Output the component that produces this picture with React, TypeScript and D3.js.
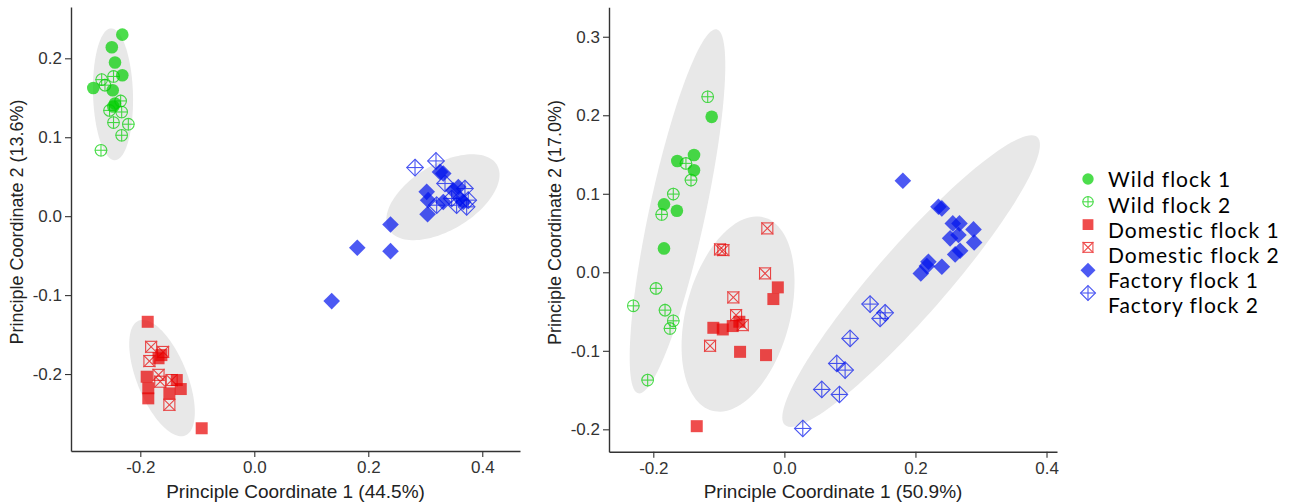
import React, { useEffect, useRef } from "react";
import * as d3 from "d3";

type Pt = [number, number];
type Ell = { c: Pt; a: Pt; b: Pt };

// ---- tick values / labels ----
const xTicks = [-0.2, 0.0, 0.2, 0.4];
const leftYTicks = [-0.2, -0.1, 0.0, 0.1, 0.2];
const rightYTicks = [-0.2, -0.1, 0.0, 0.1, 0.2, 0.3];

const groupLabels = [
  "Wild flock 1",
  "Wild flock 2",
  "Domestic flock 1",
  "Domestic flock 2",
  "Factory flock 1",
  "Factory flock 2",
];

// ---- left panel (PCo1 44.5%, PCo2 13.6%) ----
const leftWild1: Pt[] = [
  [-0.2316, 0.23], [-0.25, 0.214], [-0.2444, 0.1946], [-0.2316, 0.1785],
  [-0.2825, 0.1624], [-0.2484, 0.1595], [-0.2444, 0.1427], [-0.2474, 0.139],
];
const leftWild2: Pt[] = [
  [-0.2678, 0.173], [-0.262, 0.166], [-0.247, 0.177], [-0.2345, 0.146],
  [-0.254, 0.134], [-0.2327, 0.132], [-0.247, 0.1186], [-0.221, 0.1165],
  [-0.2327, 0.1025], [-0.269, 0.0835],
];
const leftDomestic1: Pt[] = [
  [-0.187, -0.1338], [-0.168, -0.18], [-0.163, -0.176], [-0.1888, -0.2034],
  [-0.186, -0.218], [-0.186, -0.2308], [-0.136, -0.2076], [-0.129, -0.219],
  [-0.149, -0.2245], [-0.0923, -0.2687],
];
const leftDomestic2: Pt[] = [
  [-0.181, -0.1655], [-0.16, -0.172], [-0.184, -0.1835], [-0.168, -0.201],
  [-0.165, -0.2097], [-0.145, -0.2076], [-0.149, -0.239],
];
const leftFactory1: Pt[] = [
  [0.1358, -0.1076], [0.1807, -0.04], [0.239, -0.0443], [0.239, -0.0105],
  [0.304, 0.0025], [0.3025, 0.0308], [0.305, 0.0203], [0.3258, 0.0561],
  [0.3316, 0.054], [0.349, 0.0329], [0.361, 0.0224], [0.3667, 0.018],
  [0.3316, 0.018], [0.358, 0.037],
];
const leftFactory2: Pt[] = [
  [0.282, 0.0616], [0.3188, 0.07], [0.3346, 0.0414], [0.32, 0.0139],
  [0.3463, 0.0224], [0.3696, 0.035], [0.3754, 0.0203], [0.355, 0.0139],
  [0.3726, 0.0118],
];
// ellipse: centre, major and minor semi-axis vectors (data units)
const leftEllipses: Ell[] = [
  { c: [-0.2479, 0.1544], a: [-0.0035, 0.0835], b: [0.035, 0.001] },
  { c: [-0.1619, -0.2051], a: [-0.0407, 0.0728], b: [0.0407, 0.0118] },
  { c: [0.331, 0.024], a: [0.0947, 0.041], b: [0.0298, -0.0358] },
];

// ---- right panel (PCo1 50.9%, PCo2 17.0%) ----
const rightWild1: Pt[] = [
  [-0.1109, 0.198], [-0.1634, 0.1417], [-0.1379, 0.1493], [-0.1379, 0.13],
  [-0.1837, 0.0865], [-0.164, 0.0783], [-0.1837, 0.0304],
];
const rightWild2: Pt[] = [
  [-0.117, 0.2236], [-0.1502, 0.1387], [-0.1425, 0.1174], [-0.1695, 0.0996],
  [-0.1872, 0.0737], [-0.1959, -0.0205], [-0.2305, -0.0427], [-0.1821, -0.0482],
  [-0.1695, -0.0618], [-0.1745, -0.0715], [-0.2086, -0.1373],
];
const rightDomestic1: Pt[] = [
  [-0.01, -0.0192], [-0.0168, -0.0341], [-0.1084, -0.0707], [-0.094, -0.0728],
  [-0.0788, -0.0685], [-0.0687, -0.063], [-0.0676, -0.1013], [-0.028, -0.1055],
  [-0.1337, -0.196],
];
const rightDomestic2: Pt[] = [
  [-0.026, 0.0559], [-0.0982, 0.0292], [-0.0931, 0.0283], [-0.0295, -0.0014],
  [-0.0779, -0.032], [-0.0737, -0.0545], [-0.0635, -0.0673], [-0.1134, -0.0936],
];
const rightFactory1: Pt[] = [
  [0.1808, 0.1166], [0.2351, 0.0834], [0.2403, 0.0814], [0.257, 0.0623],
  [0.2672, 0.0623], [0.2886, 0.0546], [0.2529, 0.0432], [0.2656, 0.0474],
  [0.2896, 0.038], [0.2606, 0.0228], [0.2682, 0.0274], [0.2198, 0.0134],
  [0.2403, 0.007], [0.2082, -0.0014], [0.2174, 0.0079],
];
const rightFactory2: Pt[] = [
  [0.1308, -0.0405], [0.1537, -0.0516], [0.1461, -0.0587], [0.1003, -0.0842],
  [0.08, -0.1161], [0.0927, -0.1246], [0.0571, -0.1492], [0.084, -0.1556],
  [0.0281, -0.1989],
];
const rightEllipses: Ell[] = [
  { c: [-0.1631, 0.0776], a: [0.0598, 0.2318], b: [0.0418, -0.0075] },
  { c: [-0.0707, -0.0532], a: [0.0395, 0.1231], b: [0.0766, -0.0172] },
  { c: [0.1934, -0.0112], a: [0.1924, 0.1834], b: [0.0402, -0.0294] },
];

const groupColors = ["#00cf00", "#e80000", "#0012ee"];
const AXIS_FONT = "'Liberation Sans', Arial, sans-serif";

function Marker({ kind, cx, cy, k = 1 }: { kind: number; cx: number; cy: number; k?: number }) {
  const color = groupColors[Math.floor(kind / 2)];
  const open = kind % 2 === 1;
  const shape = Math.floor(kind / 2);
  const sw = 1.1;
  if (shape === 0) {
    const r = 6.3 * k;
    return open ? (
      <g opacity={0.7} stroke={color} strokeWidth={sw} fill="none">
        <circle cx={cx} cy={cy} r={r - 0.5} />
        <line x1={cx - r} x2={cx + r} y1={cy} y2={cy} />
        <line x1={cx} x2={cx} y1={cy - r} y2={cy + r} />
      </g>
    ) : (
      <circle cx={cx} cy={cy} r={r} fill={color} opacity={0.7} />
    );
  }
  if (shape === 1) {
    const h = 6 * k;
    return open ? (
      <g opacity={0.7} stroke={color} strokeWidth={sw} fill="none">
        <rect x={cx - h + 0.5} y={cy - h + 0.5} width={2 * h - 1} height={2 * h - 1} />
        <line x1={cx - h} x2={cx + h} y1={cy - h} y2={cy + h} />
        <line x1={cx - h} x2={cx + h} y1={cy + h} y2={cy - h} />
      </g>
    ) : (
      <rect x={cx - h} y={cy - h} width={2 * h} height={2 * h} fill={color} opacity={0.7} />
    );
  }
  const d = 8.3 * k;
  const pts = `${cx},${cy - d} ${cx + d},${cy} ${cx},${cy + d} ${cx - d},${cy}`;
  return open ? (
    <g opacity={0.7} stroke={color} strokeWidth={sw} fill="none">
      <polygon points={pts} />
      <line x1={cx - d} x2={cx + d} y1={cy} y2={cy} />
      <line x1={cx} x2={cx} y1={cy - d} y2={cy + d} />
    </g>
  ) : (
    <polygon points={pts} fill={color} opacity={0.7} />
  );
}

type PanelProps = {
  left: number; right: number; top: number; bottom: number;
  xDomain: Pt; yDomain: Pt; yTicks: number[];
  xTitle: string; yTitle: string;
  series: Pt[][]; ellipses: Ell[];
};

function Panel(p: PanelProps) {
  const xRef = useRef<SVGGElement>(null);
  const yRef = useRef<SVGGElement>(null);
  const x = d3.scaleLinear().domain(p.xDomain).range([p.left, p.right]);
  const y = d3.scaleLinear().domain(p.yDomain).range([p.bottom, p.top]);

  useEffect(() => {
    const fmt = (v: any) => (+v).toFixed(1);
    const style = (g: any) => {
      g.select(".domain").attr("stroke", "#333").attr("stroke-width", 1.4);
      g.selectAll(".tick line").attr("stroke", "#333").attr("stroke-width", 1.1);
      g.selectAll(".tick text")
        .attr("fill", "#333")
        .style("font-family", AXIS_FONT)
        .style("font-size", "17px");
    };
    d3.select(xRef.current!)
      .attr("transform", `translate(0,${p.bottom})`)
      .call(d3.axisBottom(x).tickValues(xTicks).tickFormat(fmt).tickSize(6).tickSizeOuter(0).tickPadding(4) as any)
      .call(style);
    d3.select(yRef.current!)
      .attr("transform", `translate(${p.left},0)`)
      .call(d3.axisLeft(y).tickValues(p.yTicks).tickFormat(fmt).tickSize(6).tickSizeOuter(0).tickPadding(3) as any)
      .call(style);
  });

  const line = d3.line();
  const ellPath = (e: Ell) => {
    const pts = d3.range(0, 121).map((i) => {
      const t = (i / 120) * Math.PI * 2;
      const c = Math.cos(t), s = Math.sin(t);
      return [x(e.c[0] + e.a[0] * c + e.b[0] * s), y(e.c[1] + e.a[1] * c + e.b[1] * s)] as [number, number];
    });
    return line(pts) + "Z";
  };

  return (
    <g>
      {p.ellipses.map((e, i) => (
        <path key={i} d={ellPath(e)} fill="#e8e8e8" />
      ))}
      {p.series.map((s, kind) =>
        s.map((d, i) => <Marker key={`${kind}-${i}`} kind={kind} cx={x(d[0])} cy={y(d[1])} />)
      )}
      <g ref={xRef} />
      <g ref={yRef} />
      <text
        x={(p.left + p.right) / 2}
        y={498}
        textAnchor="middle"
        fontFamily={AXIS_FONT}
        fontSize={19}
        fill="#222"
      >
        {p.xTitle}
      </text>
      <text
        transform={`translate(${p.left - 48},${(p.top + p.bottom) / 2 - 7}) rotate(-90)`}
        textAnchor="middle"
        fontFamily={AXIS_FONT}
        fontSize={18}
        fill="#222"
      >
        {p.yTitle}
      </text>
    </g>
  );
}

export default function App() {
  return (
    <svg
      width={1292}
      height={503}
      style={{ position: "absolute", left: 0, top: 0, background: "#fff" }}
    >
      <Panel
        left={71} right={520} top={7} bottom={451}
        xDomain={[-0.3216, 0.4662]} yDomain={[-0.2975, 0.265]}
        yTicks={leftYTicks}
        xTitle="Principle Coordinate 1 (44.5%)"
        yTitle="Principle Coordinate 2 (13.6%)"
        series={[leftWild1, leftWild2, leftDomestic1, leftDomestic2, leftFactory1, leftFactory2]}
        ellipses={leftEllipses}
      />
      <Panel
        left={609} right={1057} top={7.3} bottom={451.7}
        xDomain={[-0.2676, 0.416]} yDomain={[-0.2285, 0.3375]}
        yTicks={rightYTicks}
        xTitle="Principle Coordinate 1 (50.9%)"
        yTitle="Principle Coordinate 2 (17.0%)"
        series={[rightWild1, rightWild2, rightDomestic1, rightDomestic2, rightFactory1, rightFactory2]}
        ellipses={rightEllipses}
      />
      <g>
        {groupLabels.map((lab, i) => (
          <g key={lab}>
            <Marker kind={i} cx={1088} cy={179 + i * 22.8} k={0.9} />
            <text
              x={1108}
              y={180 + i * 25.2}
              dy="0.35em"
              fontFamily="Lato, 'Open Sans', sans-serif"
              fontSize={21}
              letterSpacing={1}
              fill="#000"
            >
              {lab}
            </text>
          </g>
        ))}
      </g>
    </svg>
  );
}
